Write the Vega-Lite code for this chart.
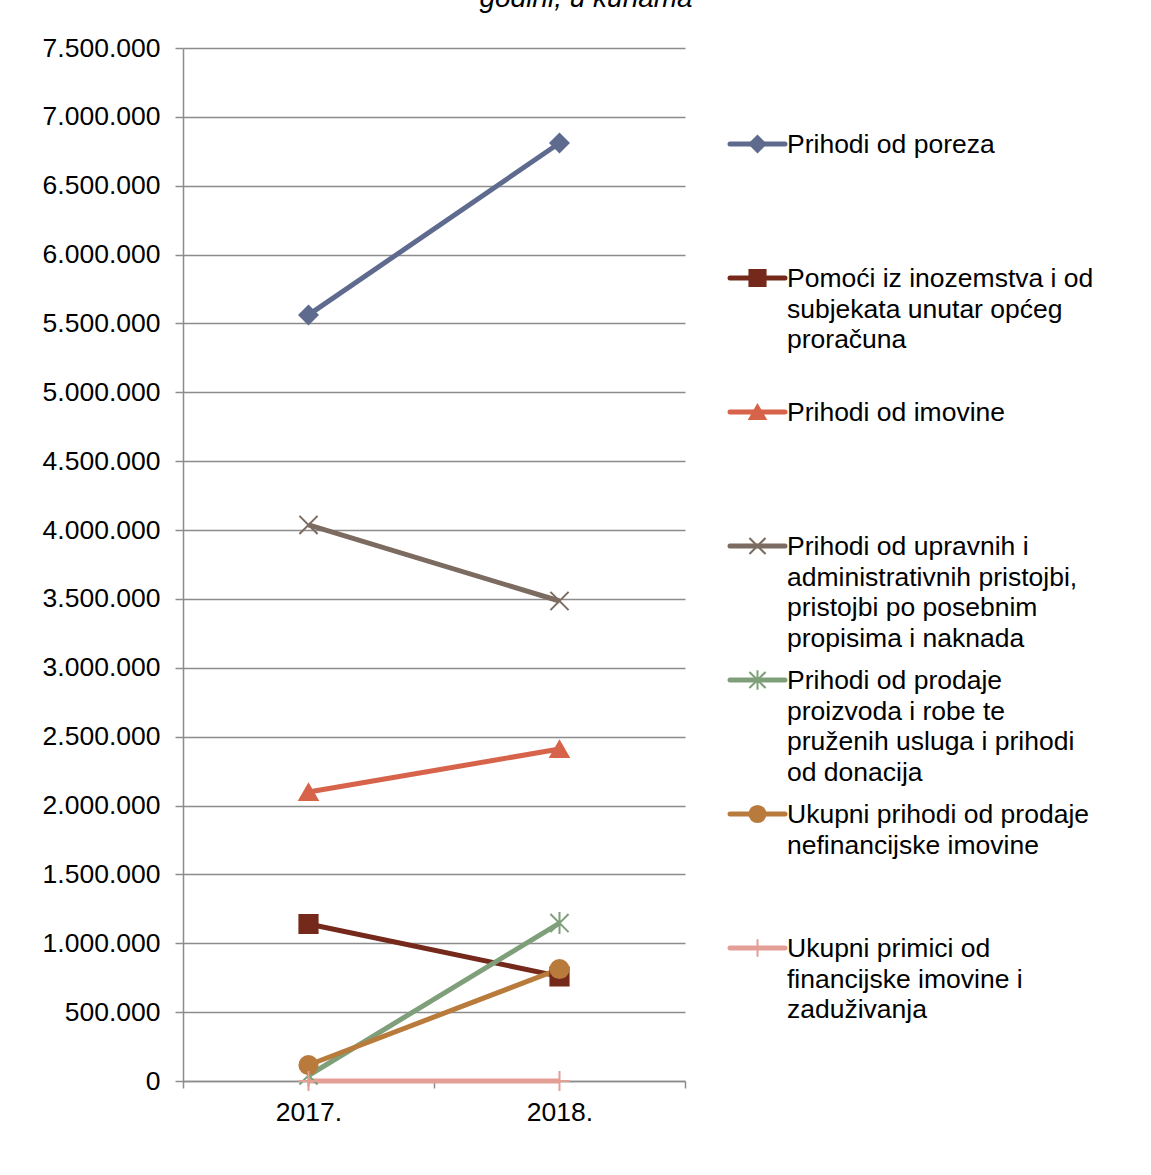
{
  "$schema": "https://vega.github.io/schema/vega-lite/v6.json",
  "background": "white",
  "padding": {"left": 42, "top": -15, "right": 0, "bottom": 0},
  "title": {"text": "godini, u kunama", "font": "Liberation Sans", "fontSize": 28, "fontStyle": "italic", "fontWeight": "normal", "color": "#000000", "offset": 22, "anchor": "middle", "dx": -10},
  "data": {"values": [
    {"series": "Prihodi od poreza", "label": "Prihodi od poreza", "year": "2017.", "value": 5562000},
    {"series": "Prihodi od poreza", "label": "Prihodi od poreza", "year": "2018.", "value": 6810000},
    {"series": "Pomoći iz inozemstva i od subjekata unutar općeg proračuna", "label": "Pomoći iz inozemstva i od\nsubjekata unutar općeg\nproračuna", "year": "2017.", "value": 1140000},
    {"series": "Pomoći iz inozemstva i od subjekata unutar općeg proračuna", "label": "Pomoći iz inozemstva i od\nsubjekata unutar općeg\nproračuna", "year": "2018.", "value": 760000},
    {"series": "Prihodi od imovine", "label": "Prihodi od imovine", "year": "2017.", "value": 2098000},
    {"series": "Prihodi od imovine", "label": "Prihodi od imovine", "year": "2018.", "value": 2410000},
    {"series": "Prihodi od upravnih i administrativnih pristojbi, pristojbi po posebnim propisima i naknada", "label": "Prihodi od upravnih i\nadministrativnih pristojbi,\npristojbi po posebnim\npropisima i naknada", "year": "2017.", "value": 4037000},
    {"series": "Prihodi od upravnih i administrativnih pristojbi, pristojbi po posebnim propisima i naknada", "label": "Prihodi od upravnih i\nadministrativnih pristojbi,\npristojbi po posebnim\npropisima i naknada", "year": "2018.", "value": 3485000},
    {"series": "Prihodi od prodaje proizvoda i robe te pruženih usluga i prihodi od donacija", "label": "Prihodi od prodaje\nproizvoda i robe te\npruženih usluga i prihodi\nod donacija", "year": "2017.", "value": 40000},
    {"series": "Prihodi od prodaje proizvoda i robe te pruženih usluga i prihodi od donacija", "label": "Prihodi od prodaje\nproizvoda i robe te\npruženih usluga i prihodi\nod donacija", "year": "2018.", "value": 1147000},
    {"series": "Ukupni prihodi od prodaje nefinancijske imovine", "label": "Ukupni prihodi od prodaje\nnefinancijske imovine", "year": "2017.", "value": 116000},
    {"series": "Ukupni prihodi od prodaje nefinancijske imovine", "label": "Ukupni prihodi od prodaje\nnefinancijske imovine", "year": "2018.", "value": 813000},
    {"series": "Ukupni primici od financijske imovine i zaduživanja", "label": "Ukupni primici od\nfinancijske imovine i\nzaduživanja", "year": "2017.", "value": 0},
    {"series": "Ukupni primici od financijske imovine i zaduživanja", "label": "Ukupni primici od\nfinancijske imovine i\nzaduživanja", "year": "2018.", "value": 0}
  ]},
  "spacing": 41,
  "hconcat": [
    {
      "width": 502,
      "height": 1033,
      "layer": [
        {
          "mark": {"type": "line", "strokeWidth": 5},
          "encoding": {
            "x": {"field": "year", "type": "nominal", "scale": {"type": "band", "paddingInner": 0, "paddingOuter": 0},
              "axis": {"title": null, "labelAngle": 0, "tickBand": "extent", "grid": false, "domainColor": "#8c8c8c", "domainWidth": 1.5, "tickColor": "#8c8c8c", "tickWidth": 1.5, "tickSize": 7, "labelPadding": 11, "labelFont": "Liberation Sans", "labelFontSize": 26.5, "labelColor": "#000000"}},
            "y": {"field": "value", "type": "quantitative", "scale": {"domain": [0, 7500000], "nice": false},
              "axis": {"title": null, "values": [0, 500000, 1000000, 1500000, 2000000, 2500000, 3000000, 3500000, 4000000, 4500000, 5000000, 5500000, 6000000, 6500000, 7000000, 7500000],
                "labelExpr": "replace(format(datum.value, ','), regexp(',', 'g'), '.')",
                "grid": true, "gridColor": "#8c8c8c", "gridWidth": 1.5, "domainColor": "#8c8c8c", "domainWidth": 1.5, "tickColor": "#8c8c8c", "tickWidth": 1.5, "tickSize": 8, "labelPadding": 15, "labelFont": "Liberation Sans", "labelFontSize": 26.5, "labelColor": "#000000"}},
            "color": {"field": "series", "type": "nominal", "legend": null,
              "scale": {"domain": ["Prihodi od poreza", "Pomoći iz inozemstva i od subjekata unutar općeg proračuna", "Prihodi od imovine", "Prihodi od upravnih i administrativnih pristojbi, pristojbi po posebnim propisima i naknada", "Prihodi od prodaje proizvoda i robe te pruženih usluga i prihodi od donacija", "Ukupni prihodi od prodaje nefinancijske imovine", "Ukupni primici od financijske imovine i zaduživanja"],
                "range": ["#5F6B8E", "#74291B", "#D6634A", "#7B6B60", "#7F9F7A", "#B97B3C", "#E39E96"]}}
          }
        },
        {
          "mark": {"type": "point", "filled": true, "strokeWidth": 2, "size": 330, "opacity": 1},
          "encoding": {
            "x": {"field": "year", "type": "nominal"},
            "y": {"field": "value", "type": "quantitative"},
            "fill": {"field": "series", "type": "nominal", "legend": null,
              "scale": {"domain": ["Prihodi od poreza", "Pomoći iz inozemstva i od subjekata unutar općeg proračuna", "Prihodi od imovine", "Prihodi od upravnih i administrativnih pristojbi, pristojbi po posebnim propisima i naknada", "Prihodi od prodaje proizvoda i robe te pruženih usluga i prihodi od donacija", "Ukupni prihodi od prodaje nefinancijske imovine", "Ukupni primici od financijske imovine i zaduživanja"],
                "range": ["#5F6B8E", "#74291B", "#D6634A", "#7B6B60", "#7F9F7A", "#B97B3C", "#E39E96"]}},
            "stroke": {"field": "series", "type": "nominal", "legend": null,
              "scale": {"domain": ["Prihodi od poreza", "Pomoći iz inozemstva i od subjekata unutar općeg proračuna", "Prihodi od imovine", "Prihodi od upravnih i administrativnih pristojbi, pristojbi po posebnim propisima i naknada", "Prihodi od prodaje proizvoda i robe te pruženih usluga i prihodi od donacija", "Ukupni prihodi od prodaje nefinancijske imovine", "Ukupni primici od financijske imovine i zaduživanja"],
                "range": ["#5F6B8E", "#74291B", "#D6634A", "#7B6B60", "#7F9F7A", "#B97B3C", "#E39E96"]}},
            "shape": {"field": "series", "type": "nominal", "legend": null,
              "scale": {"domain": ["Prihodi od poreza", "Pomoći iz inozemstva i od subjekata unutar općeg proračuna", "Prihodi od imovine", "Prihodi od upravnih i administrativnih pristojbi, pristojbi po posebnim propisima i naknada", "Prihodi od prodaje proizvoda i robe te pruženih usluga i prihodi od donacija", "Ukupni prihodi od prodaje nefinancijske imovine", "Ukupni primici od financijske imovine i zaduživanja"],
                "range": ["diamond", "square", "triangle-up", "M-1,-1L1,1M-1,1L1,-1", "M-1,-1L1,1M-1,1L1,-1M0,-1.2L0,1.2", "circle", "M-1.1,0L1.1,0M0,-1.1L0,1.1"]}}
          }
        }
      ]
    },
    {
      "width": 420,
      "height": 1033,
      "transform": [{"filter": "datum.year == '2017.'"}],
      "encoding": {
        "y": {"field": "series", "type": "nominal", "axis": null,
          "scale": {"type": "point", "padding": 0, "range": [96, 900], "domain": ["Prihodi od poreza", "Pomoći iz inozemstva i od subjekata unutar općeg proračuna", "Prihodi od imovine", "Prihodi od upravnih i administrativnih pristojbi, pristojbi po posebnim propisima i naknada", "Prihodi od prodaje proizvoda i robe te pruženih usluga i prihodi od donacija", "Ukupni prihodi od prodaje nefinancijske imovine", "Ukupni primici od financijske imovine i zaduživanja"]}}
      },
      "layer": [
        {
          "mark": {"type": "rule", "strokeWidth": 5, "strokeCap": "round"},
          "encoding": {
            "x": {"datum": 0, "type": "quantitative", "scale": {"domain": [0, 420], "nice": false}, "axis": null},
            "x2": {"datum": 55},
            "color": {"field": "series", "type": "nominal", "legend": null,
              "scale": {"domain": ["Prihodi od poreza", "Pomoći iz inozemstva i od subjekata unutar općeg proračuna", "Prihodi od imovine", "Prihodi od upravnih i administrativnih pristojbi, pristojbi po posebnim propisima i naknada", "Prihodi od prodaje proizvoda i robe te pruženih usluga i prihodi od donacija", "Ukupni prihodi od prodaje nefinancijske imovine", "Ukupni primici od financijske imovine i zaduživanja"],
                "range": ["#5F6B8E", "#74291B", "#D6634A", "#7B6B60", "#7F9F7A", "#B97B3C", "#E39E96"]}}
          }
        },
        {
          "mark": {"type": "point", "filled": true, "strokeWidth": 2, "size": 260, "opacity": 1},
          "encoding": {
            "x": {"datum": 27.5, "type": "quantitative"},
            "fill": {"field": "series", "type": "nominal", "legend": null,
              "scale": {"domain": ["Prihodi od poreza", "Pomoći iz inozemstva i od subjekata unutar općeg proračuna", "Prihodi od imovine", "Prihodi od upravnih i administrativnih pristojbi, pristojbi po posebnim propisima i naknada", "Prihodi od prodaje proizvoda i robe te pruženih usluga i prihodi od donacija", "Ukupni prihodi od prodaje nefinancijske imovine", "Ukupni primici od financijske imovine i zaduživanja"],
                "range": ["#5F6B8E", "#74291B", "#D6634A", "#7B6B60", "#7F9F7A", "#B97B3C", "#E39E96"]}},
            "stroke": {"field": "series", "type": "nominal", "legend": null,
              "scale": {"domain": ["Prihodi od poreza", "Pomoći iz inozemstva i od subjekata unutar općeg proračuna", "Prihodi od imovine", "Prihodi od upravnih i administrativnih pristojbi, pristojbi po posebnim propisima i naknada", "Prihodi od prodaje proizvoda i robe te pruženih usluga i prihodi od donacija", "Ukupni prihodi od prodaje nefinancijske imovine", "Ukupni primici od financijske imovine i zaduživanja"],
                "range": ["#5F6B8E", "#74291B", "#D6634A", "#7B6B60", "#7F9F7A", "#B97B3C", "#E39E96"]}},
            "shape": {"field": "series", "type": "nominal", "legend": null,
              "scale": {"domain": ["Prihodi od poreza", "Pomoći iz inozemstva i od subjekata unutar općeg proračuna", "Prihodi od imovine", "Prihodi od upravnih i administrativnih pristojbi, pristojbi po posebnim propisima i naknada", "Prihodi od prodaje proizvoda i robe te pruženih usluga i prihodi od donacija", "Ukupni prihodi od prodaje nefinancijske imovine", "Ukupni primici od financijske imovine i zaduživanja"],
                "range": ["diamond", "square", "triangle-up", "M-1,-1L1,1M-1,1L1,-1", "M-1,-1L1,1M-1,1L1,-1M0,-1.2L0,1.2", "circle", "M-1.1,0L1.1,0M0,-1.1L0,1.1"]}}
          }
        },
        {
          "mark": {"type": "text", "align": "left", "baseline": "alphabetic", "dy": 9, "lineBreak": "\n", "lineHeight": 30.5, "font": "Liberation Sans", "fontSize": 26.5, "color": "#000000"},
          "encoding": {
            "x": {"datum": 57, "type": "quantitative"},
            "text": {"field": "label", "type": "nominal"}
          }
        }
      ]
    }
  ],
  "config": {
    "view": {"stroke": null},
    "concat": {"spacing": 41}
  }
}
